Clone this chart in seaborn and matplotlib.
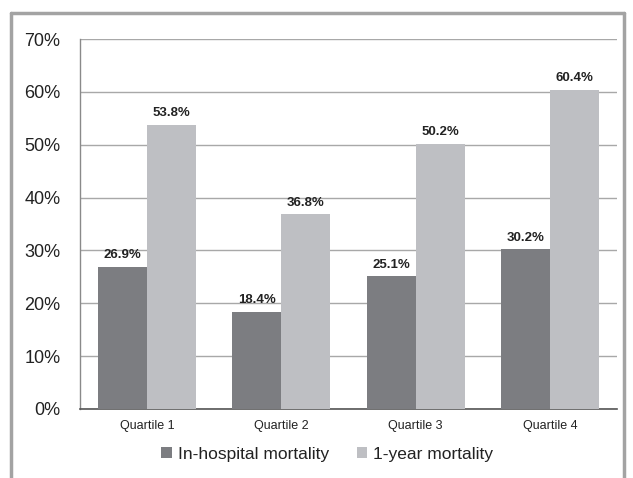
import matplotlib
matplotlib.use("Agg")
import matplotlib.pyplot as plt
from matplotlib.lines import Line2D
import seaborn as sns
import pandas as pd

categories = ["Quartile 1", "Quartile 2", "Quartile 3", "Quartile 4"]
series_names = ["In-hospital mortality", "1-year mortality"]
in_hospital = [26.9, 18.4, 25.1, 30.2]
one_year = [53.8, 36.8, 50.2, 60.4]
y_ticks = [0, 10, 20, 30, 40, 50, 60, 70]

df = pd.DataFrame({
    "quartile": categories * 2,
    "series": [series_names[0]] * 4 + [series_names[1]] * 4,
    "value": in_hospital + one_year,
})

sns.set_theme(style="white")
plt.rcParams["font.family"] = ["Liberation Sans", "DejaVu Sans"]

fig = plt.figure(figsize=(6.33, 4.78), dpi=100)
ax = fig.add_axes([0.1264, 0.1444, 0.8483, 0.7740])

palette = {series_names[0]: "#7c7d81", series_names[1]: "#bebfc3"}
sns.barplot(data=df, x="quartile", y="value", hue="series", order=categories,
            hue_order=series_names, palette=palette, width=0.73,
            saturation=1, edgecolor="none", linewidth=0, ax=ax, zorder=3)

for cont in ax.containers:
    ax.bar_label(cont, labels=[f"{v:.1f}%" for v in cont.datavalues],
                 padding=4, fontsize=9.5, fontweight="bold", color="#222222")

ax.set_xlim(-0.5, 3.5)
ax.set_ylim(0, 70)
ax.set_yticks(y_ticks)
ax.set_yticklabels([f"{t}%" for t in y_ticks], fontsize=13, color="#222222")
ax.tick_params(axis="y", length=0, pad=14)
ax.tick_params(axis="x", length=0, pad=8, labelsize=9, labelcolor="#222222")
ax.set_xlabel("")
ax.set_ylabel("")
ax.yaxis.grid(True, color="#a8a8a8", linewidth=1.0, zorder=0)
ax.set_axisbelow(True)
for side in ["top", "right"]:
    ax.spines[side].set_visible(False)
ax.spines["left"].set_color("#8a8a8a")
ax.spines["left"].set_linewidth(1.0)
ax.spines["bottom"].set_color("#555555")
ax.spines["bottom"].set_linewidth(1.2)

handles, labels = ax.get_legend_handles_labels()
ax.get_legend().remove()
fig.legend(handles, labels, loc="center", bbox_to_anchor=(0.517, 0.050),
           ncol=2, frameon=False, fontsize=12.5, handlelength=0.6,
           handleheight=0.6, handletextpad=0.35, columnspacing=1.6,
           labelcolor="#222222")

# outer frame: top, left and right edges
frame_kw = dict(color="#a3a3a3", linewidth=2.5, transform=fig.transFigure)
x0, x1 = 11 / 633, 624 / 633
ytop = 1 - 13 / 478
fig.add_artist(Line2D([x0, x1], [ytop, ytop], **frame_kw))
fig.add_artist(Line2D([x0, x0], [0, ytop], **frame_kw))
fig.add_artist(Line2D([x1, x1], [0, ytop], **frame_kw))

fig.savefig("out.png", dpi=100, facecolor="white")
